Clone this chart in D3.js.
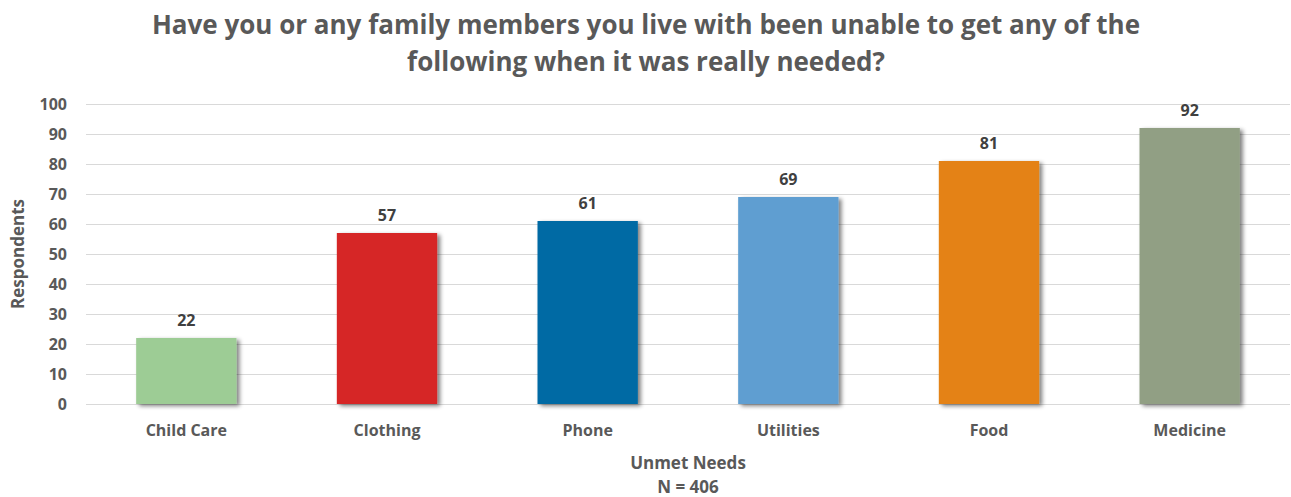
<!DOCTYPE html>
<html>
<head>
<meta charset="utf-8">
<script src="https://cdn.jsdelivr.net/npm/d3@7"></script>
<style>
  body { margin: 0; background: #fff; }
  text { font-family: "Open Sans", "Liberation Sans", sans-serif; font-weight: bold; }
</style>
</head>
<body>
<div id="chart"></div>
<script>
// chart data
const categories = ['Child Care', 'Clothing', 'Phone', 'Utilities', 'Food', 'Medicine'];
const respondents = [22, 57, 61, 69, 81, 92];
const barColors = ['#9dcc95', '#d62728', '#006ba4', '#5f9ed1', '#e48213', '#919f84'];
const yTicks = [0, 10, 20, 30, 40, 50, 60, 70, 80, 90, 100];
const titleLines = ['Have you or any family members you live with been unable to get any of the',
                    'following when it was really needed?'];

const width = 1291, height = 497;
const margin = { top: 104, right: 1, bottom: 93, left: 86 };

const svg = d3.select('#chart').append('svg')
  .attr('width', width)
  .attr('height', height);

// soft drop shadow like the original
const defs = svg.append('defs');
const shadow = defs.append('filter').attr('id', 'shadow')
  .attr('x', '-10%').attr('y', '-10%').attr('width', '130%').attr('height', '130%');
shadow.append('feGaussianBlur').attr('in', 'SourceAlpha').attr('stdDeviation', 2).attr('result', 'blur');
shadow.append('feOffset').attr('in', 'blur').attr('dx', 3).attr('dy', 2).attr('result', 'off');
shadow.append('feComponentTransfer').attr('in', 'off').attr('result', 'soft')
  .append('feFuncA').attr('type', 'linear').attr('slope', 0.5);
const merge = shadow.append('feMerge');
merge.append('feMergeNode').attr('in', 'soft');
merge.append('feMergeNode').attr('in', 'SourceGraphic');

const x = d3.scaleBand()
  .domain(categories)
  .range([margin.left, width - margin.right])
  .paddingInner(0.5)
  .paddingOuter(0.25);

const y = d3.scaleLinear()
  .domain([0, 100])
  .range([height - margin.bottom, margin.top]);

// gridlines
svg.append('g')
  .selectAll('line')
  .data(yTicks)
  .enter()
  .append('line')
  .attr('x1', margin.left)
  .attr('x2', width - margin.right)
  .attr('y1', d => Math.round(y(d)) + 0.5)
  .attr('y2', d => Math.round(y(d)) + 0.5)
  .attr('stroke', '#d9d9d9')
  .attr('stroke-width', 1);

// y axis labels
const yAxis = svg.append('g')
  .attr('transform', `translate(${margin.left - 19},0)`)
  .call(d3.axisLeft(y).tickValues(yTicks).tickSize(0).tickPadding(0));
yAxis.select('.domain').remove();
yAxis.selectAll('text')
  .attr('fill', '#595959')
  .attr('font-size', '16px')
  .style('font-family', '"Open Sans", sans-serif')
  .style('font-weight', 'bold');

// x axis labels
const xAxis = svg.append('g')
  .attr('transform', `translate(0,${height - margin.bottom})`)
  .call(d3.axisBottom(x).tickSize(0).tickPadding(21));
xAxis.select('.domain').remove();
xAxis.selectAll('text')
  .attr('fill', '#595959')
  .attr('font-size', '16px')
  .style('font-family', '"Open Sans", sans-serif')
  .style('font-weight', 'bold');

// bars
svg.append('g')
  .selectAll('rect')
  .data(respondents)
  .enter()
  .append('rect')
  .attr('x', (d, i) => x(categories[i]))
  .attr('y', d => y(d))
  .attr('width', x.bandwidth())
  .attr('height', d => y(0) - y(d))
  .attr('fill', (d, i) => barColors[i])
  .attr('filter', 'url(#shadow)');

// value labels
svg.append('g')
  .selectAll('text')
  .data(respondents)
  .enter()
  .append('text')
  .attr('x', (d, i) => x(categories[i]) + x.bandwidth() / 2)
  .attr('y', d => y(d) - 12)
  .attr('text-anchor', 'middle')
  .attr('fill', '#404040')
  .attr('font-size', '16px')
  .text(d => d);

// title
svg.append('g')
  .selectAll('text')
  .data(titleLines)
  .enter()
  .append('text')
  .attr('x', 646)
  .attr('y', (d, i) => 34 + i * 37)
  .attr('text-anchor', 'middle')
  .attr('fill', '#595959')
  .attr('font-size', '26px')
  .text(d => d);

// axis titles
svg.append('text')
  .attr('x', 688)
  .attr('y', 469)
  .attr('text-anchor', 'middle')
  .attr('fill', '#595959')
  .attr('font-size', '17px')
  .text('Unmet Needs');

svg.append('text')
  .attr('x', 688)
  .attr('y', 493)
  .attr('text-anchor', 'middle')
  .attr('fill', '#595959')
  .attr('font-size', '17px')
  .text('N = 406');

svg.append('text')
  .attr('transform', `translate(24,${y(50)}) rotate(-90)`)
  .attr('text-anchor', 'middle')
  .attr('fill', '#595959')
  .attr('font-size', '17px')
  .text('Respondents');
</script>
</body>
</html>
